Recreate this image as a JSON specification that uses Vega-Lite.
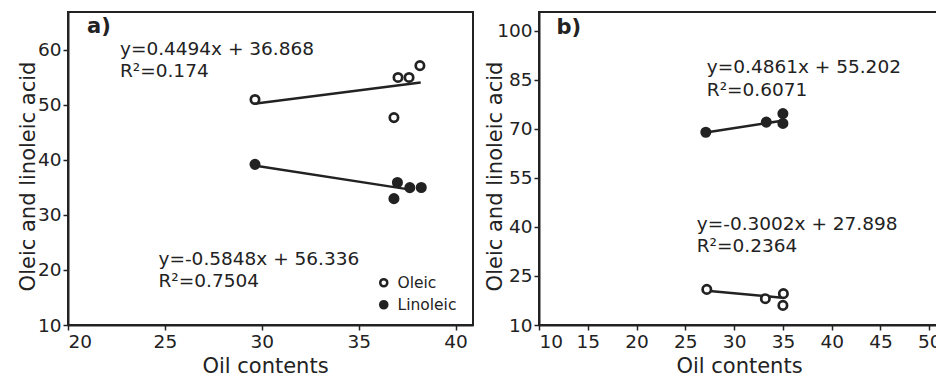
{
  "$schema": "https://vega.github.io/schema/vega-lite/v6.json",
  "background": "white",
  "padding": {"left": 16, "top": 11, "right": 0, "bottom": 0},
  "spacing": 9,
  "config": {
    "font": "DejaVu Sans",
    "view": {"stroke": "#222", "strokeWidth": 2},
    "axis": {
      "grid": false,
      "domainColor": "#222",
      "domainWidth": 2,
      "tickColor": "#222",
      "tickWidth": 1.5,
      "tickSize": 5,
      "labelFont": "DejaVu Sans",
      "labelFontSize": 18.5,
      "labelColor": "#222",
      "labelPadding": 2,
      "titleFont": "DejaVu Sans",
      "titleFontSize": 21,
      "titleFontWeight": "normal",
      "titleColor": "#222",
      "titleBaseline": "alphabetic"
    },
    "axisX": {"titleY": 47},
    "axisY": {"titleX": -35, "titleY": 164, "titleAlign": "center", "titleAngle": -90},
    "legend": {
      "labelFont": "DejaVu Sans",
      "labelFontSize": 15.5,
      "labelColor": "#222",
      "symbolStrokeColor": "#222",
      "symbolStrokeWidth": 2.5,
      "symbolSize": 50,
      "symbolType": "circle",
      "rowPadding": 4,
      "labelOffset": 6,
      "padding": 0
    }
  },
  "datasets": {
    "a_pts": [
      {"series": "Oleic", "x": 29.65, "y": 51.0},
      {"series": "Oleic", "x": 36.82, "y": 47.7},
      {"series": "Oleic", "x": 37.03, "y": 55.0},
      {"series": "Oleic", "x": 37.6, "y": 55.0},
      {"series": "Oleic", "x": 38.16, "y": 57.15},
      {"series": "Linoleic", "x": 29.65, "y": 39.2},
      {"series": "Linoleic", "x": 37.0, "y": 35.9},
      {"series": "Linoleic", "x": 37.64, "y": 34.97},
      {"series": "Linoleic", "x": 38.23, "y": 35.0},
      {"series": "Linoleic", "x": 36.82, "y": 32.97}
    ],
    "a_fit": [
      {"series": "Oleic", "x": 29.6, "y": 50.2},
      {"series": "Oleic", "x": 38.2, "y": 54.1},
      {"series": "Linoleic", "x": 29.6, "y": 39.0},
      {"series": "Linoleic", "x": 37.5, "y": 34.7}
    ],
    "a_eq": [
      {"text": "y=0.4494x + 36.868", "x": 22.68, "y": 59.0},
      {"text": "R²=0.174", "x": 22.68, "y": 55.0},
      {"text": "y=-0.5848x + 56.336", "x": 24.67, "y": 20.9},
      {"text": "R²=0.7504", "x": 24.67, "y": 16.96}
    ],
    "a_lab": [{"text": "a)", "x": 20.98, "y": 63.0}],
    "b_pts": [
      {"series": "Oleic", "x": 27.2, "y": 20.9},
      {"series": "Oleic", "x": 33.2, "y": 18.05},
      {"series": "Oleic", "x": 35.05, "y": 19.6},
      {"series": "Oleic", "x": 35.0, "y": 16.0},
      {"series": "Linoleic", "x": 27.1, "y": 69.0},
      {"series": "Linoleic", "x": 33.3, "y": 72.1},
      {"series": "Linoleic", "x": 35.0, "y": 74.7},
      {"series": "Linoleic", "x": 35.0, "y": 71.7}
    ],
    "b_fit": [
      {"series": "Oleic", "x": 27.2, "y": 20.5},
      {"series": "Oleic", "x": 34.9, "y": 18.35},
      {"series": "Linoleic", "x": 27.1, "y": 68.9},
      {"series": "Linoleic", "x": 34.9, "y": 72.5}
    ],
    "b_eq": [
      {"text": "y=0.4861x + 55.202", "x": 27.2, "y": 87.0},
      {"text": "R²=0.6071", "x": 27.2, "y": 80.2},
      {"text": "y=-0.3002x + 27.898", "x": 26.17, "y": 39.1},
      {"text": "R²=0.2364", "x": 26.17, "y": 32.4}
    ],
    "b_lab": [{"text": "b)", "x": 11.8, "y": 99.0}]
  },
  "hconcat": [
    {
      "width": 405,
      "height": 313,
      "layer": [
        {
          "data": {"name": "a_fit"},
          "mark": {"type": "line", "color": "#222", "strokeWidth": 2.5},
          "encoding": {
            "x": {"field": "x", "type": "quantitative", "scale": {"domain": [20, 40.9], "nice": false, "zero": false}, "axis": {"title": "Oil contents", "values": [20, 25, 30, 35, 40], "titleX": 197, "titleAlign": "center"}},
            "y": {"field": "y", "type": "quantitative", "scale": {"domain": [10, 66.9], "nice": false, "zero": false}, "axis": {"title": "Oleic and linoleic acid", "values": [10, 20, 30, 40, 50, 60], "titleX": -34}},
            "detail": {"field": "series"}
          }
        },
        {
          "data": {"name": "a_pts"},
          "mark": {"type": "point", "shape": "circle", "filled": true, "stroke": "#222", "strokeWidth": 2.7, "size": 70, "opacity": 1},
          "encoding": {
            "x": {"field": "x", "type": "quantitative"},
            "y": {"field": "y", "type": "quantitative"},
            "fill": {"field": "series", "type": "nominal", "scale": {"domain": ["Oleic", "Linoleic"], "range": ["white", "#222"]},
              "legend": {"title": null, "orient": "none", "legendX": 308, "legendY": 263}}
          }
        },
        {
          "data": {"name": "a_eq"},
          "mark": {"type": "text", "align": "left", "baseline": "alphabetic", "fontSize": 18.5, "color": "#222"},
          "encoding": {
            "x": {"field": "x", "type": "quantitative"},
            "y": {"field": "y", "type": "quantitative"},
            "text": {"field": "text"}
          }
        },
        {
          "data": {"name": "a_lab"},
          "mark": {"type": "text", "align": "left", "baseline": "alphabetic", "fontSize": 21, "fontWeight": "bold", "color": "#222"},
          "encoding": {
            "x": {"field": "x", "type": "quantitative"},
            "y": {"field": "y", "type": "quantitative"},
            "text": {"field": "text"}
          }
        }
      ]
    },
    {
      "width": 400,
      "height": 313,
      "layer": [
        {
          "data": {"name": "b_fit"},
          "mark": {"type": "line", "color": "#222", "strokeWidth": 2.5},
          "encoding": {
            "x": {"field": "x", "type": "quantitative", "scale": {"domain": [10, 51.0], "nice": false, "zero": false}, "axis": {"title": "Oil contents", "values": [10, 15, 20, 25, 30, 35, 40, 45, 50]}},
            "y": {"field": "y", "type": "quantitative", "scale": {"domain": [10, 105.8], "nice": false, "zero": false}, "axis": {"title": "Oleic and linoleic acid", "values": [10, 25, 40, 55, 70, 85, 100], "titleX": -38}},
            "detail": {"field": "series"}
          }
        },
        {
          "data": {"name": "b_pts"},
          "mark": {"type": "point", "shape": "circle", "filled": true, "stroke": "#222", "strokeWidth": 2.7, "size": 70, "opacity": 1},
          "encoding": {
            "x": {"field": "x", "type": "quantitative"},
            "y": {"field": "y", "type": "quantitative"},
            "fill": {"field": "series", "type": "nominal", "scale": {"domain": ["Oleic", "Linoleic"], "range": ["white", "#222"]},
              "legend": {"title": null, "orient": "none", "legendX": 309, "legendY": 263}}
          }
        },
        {
          "data": {"name": "b_eq"},
          "mark": {"type": "text", "align": "left", "baseline": "alphabetic", "fontSize": 18.5, "color": "#222"},
          "encoding": {
            "x": {"field": "x", "type": "quantitative"},
            "y": {"field": "y", "type": "quantitative"},
            "text": {"field": "text"}
          }
        },
        {
          "data": {"name": "b_lab"},
          "mark": {"type": "text", "align": "left", "baseline": "alphabetic", "fontSize": 21, "fontWeight": "bold", "color": "#222"},
          "encoding": {
            "x": {"field": "x", "type": "quantitative"},
            "y": {"field": "y", "type": "quantitative"},
            "text": {"field": "text"}
          }
        }
      ]
    }
  ],
  "resolve": {"scale": {"fill": "shared"}}
}
